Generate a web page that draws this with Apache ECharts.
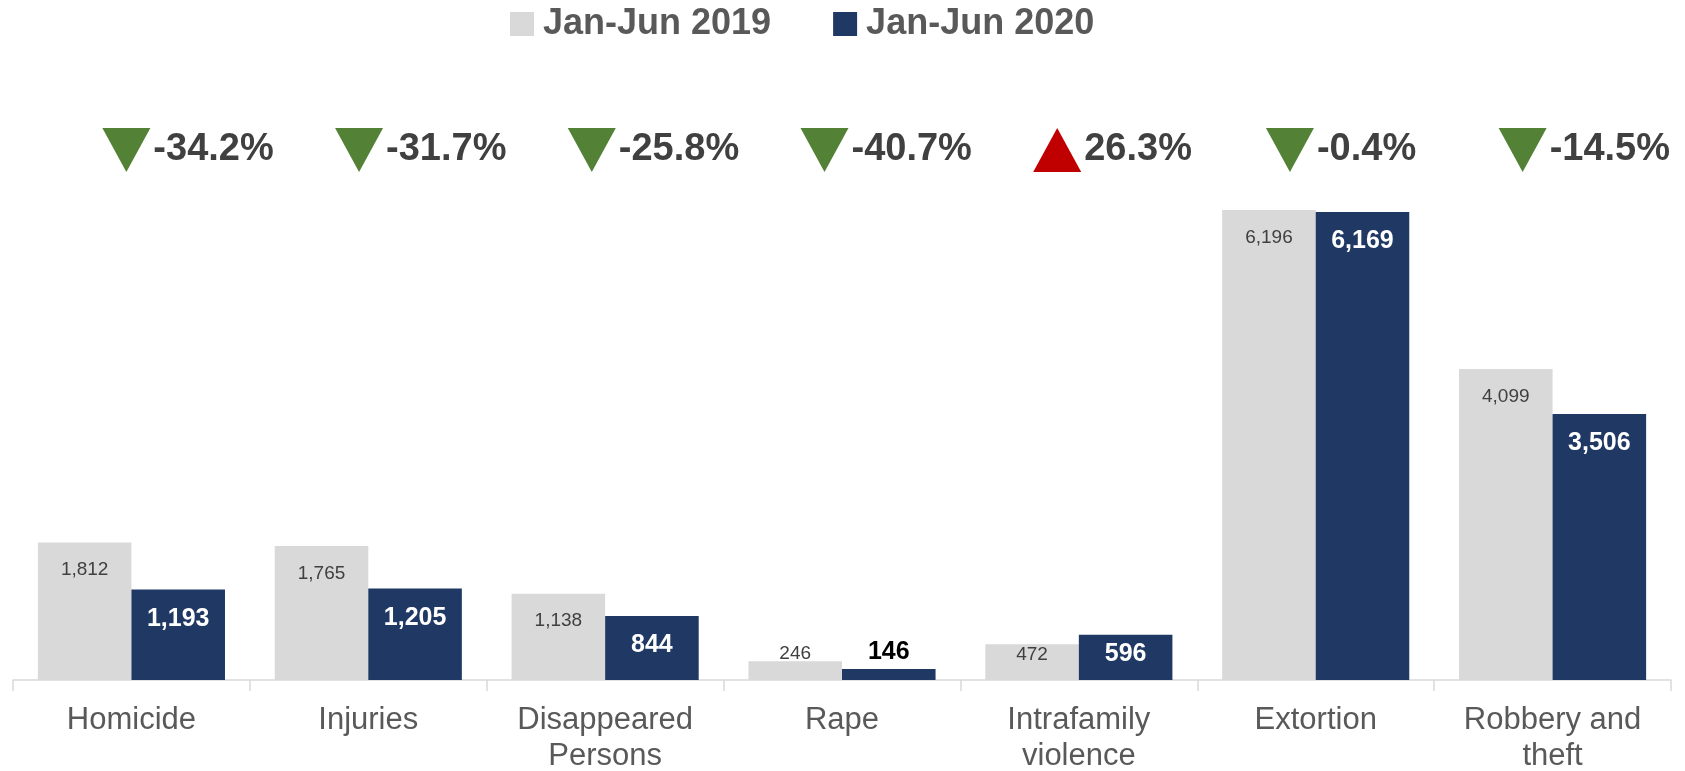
<!DOCTYPE html>
<html>
<head>
<meta charset="utf-8">
<script src="https://cdn.jsdelivr.net/npm/echarts@6/dist/echarts.min.js"></script>
<style>
  html, body { margin: 0; padding: 0; background: #fff; }
  #main { width: 1685px; height: 771px; }
</style>
</head>
<body>
<div id="main"></div>
<script>
var categories = ['Homicide', 'Injuries', 'Disappeared\nPersons', 'Rape', 'Intrafamily\nviolence', 'Extortion', 'Robbery and\ntheft'];
var values2019 = [1812, 1765, 1138, 246, 472, 6196, 4099];
var values2020 = [1193, 1205, 844, 146, 596, 6169, 3506];

var FONT = '"Liberation Sans", Arial, sans-serif';
var downTri = 'path://M0,0L2,0L1,2Z';
var upTri = 'path://M1,0L2,2L0,2Z';

function fmt(v) {
  return v.toLocaleString('en-US');
}

// % change per category, from the two series
var changes = values2020.map(function (v, i) {
  return (v - values2019[i]) / values2019[i] * 100;
});

// label placement for short bars
var data2019 = values2019.map(function (v) {
  if (v < 300) return { value: v, label: { position: 'top', distance: -2 } };
  if (v < 600) return { value: v, label: { distance: 1 } };
  return v;
});
var data2020 = values2020.map(function (v) {
  if (v < 300) return { value: v, label: { position: 'top', distance: 4, color: '#000' } };
  if (v < 700) return { value: v, label: { distance: 7 } };
  return v;
});

var changeData = changes.map(function (c, i) {
  return {
    value: [i, 0.5],
    symbol: c < 0 ? downTri : upTri,
    itemStyle: { color: c < 0 ? '#538135' : '#C00000' }
  };
});

var chart = echarts.init(document.getElementById('main'));

var option = {
  backgroundColor: '#ffffff',
  animation: false,
  legend: {
    left: 505,
    top: 1,
    icon: 'rect',
    itemWidth: 24,
    itemHeight: 24,
    itemGap: 62,
    textStyle: {
      fontFamily: FONT,
      fontSize: 36,
      fontWeight: 'bold',
      color: '#595959',
      padding: [0, 0, 0, 4]
    },
    data: ['Jan-Jun 2019', 'Jan-Jun 2020']
  },
  grid: [
    { left: 13, right: 14, top: 149, bottom: 91, outerBoundsMode: 'none' },
    { left: 10, right: 46, top: 128, height: 44, outerBoundsMode: 'none' }
  ],
  xAxis: [{
    type: 'category',
    data: categories,
    gridIndex: 0,
    axisLine: { lineStyle: { color: '#D9D9D9', width: 1.5 } },
    axisTick: { show: true, length: 11, lineStyle: { color: '#D9D9D9', width: 1.5 } },
    axisLabel: {
      fontFamily: FONT,
      fontSize: 31,
      color: '#595959',
      margin: 22,
      lineHeight: 36
    }
  }, {
    type: 'category',
    data: categories,
    gridIndex: 1,
    show: false
  }],
  yAxis: [{
    type: 'value',
    gridIndex: 0,
    min: 0,
    max: 7000,
    show: false,
    splitLine: { show: false }
  }, {
    type: 'value',
    gridIndex: 1,
    min: 0,
    max: 1,
    show: false,
    splitLine: { show: false }
  }],
  series: [{
    name: 'Jan-Jun 2019',
    type: 'bar',
    data: data2019,
    barGap: '0%',
    barCategoryGap: '21%',
    itemStyle: { color: '#D9D9D9' },
    label: {
      show: true,
      position: 'insideTop',
      distance: 18,
      fontFamily: FONT,
      fontSize: 19,
      color: '#404040',
      formatter: function (p) { return fmt(p.value); }
    }
  }, {
    name: 'Jan-Jun 2020',
    type: 'bar',
    data: data2020,
    itemStyle: { color: '#203864' },
    label: {
      show: true,
      position: 'insideTop',
      distance: 17,
      fontFamily: FONT,
      fontSize: 25,
      fontWeight: 'bold',
      color: '#ffffff',
      formatter: function (p) { return fmt(p.value); }
    }
  }, {
    name: 'change',
    type: 'scatter',
    xAxisIndex: 1,
    yAxisIndex: 1,
    data: changeData,
    symbolSize: [48, 44],
    itemStyle: { opacity: 1 },
    label: {
      show: true,
      position: 'right',
      distance: 3,
      fontFamily: FONT,
      fontSize: 38,
      fontWeight: 'bold',
      color: '#404040',
      formatter: function (p) { return changes[p.dataIndex].toFixed(1) + '%'; }
    }
  }]
};

chart.setOption(option);
</script>
</body>
</html>
